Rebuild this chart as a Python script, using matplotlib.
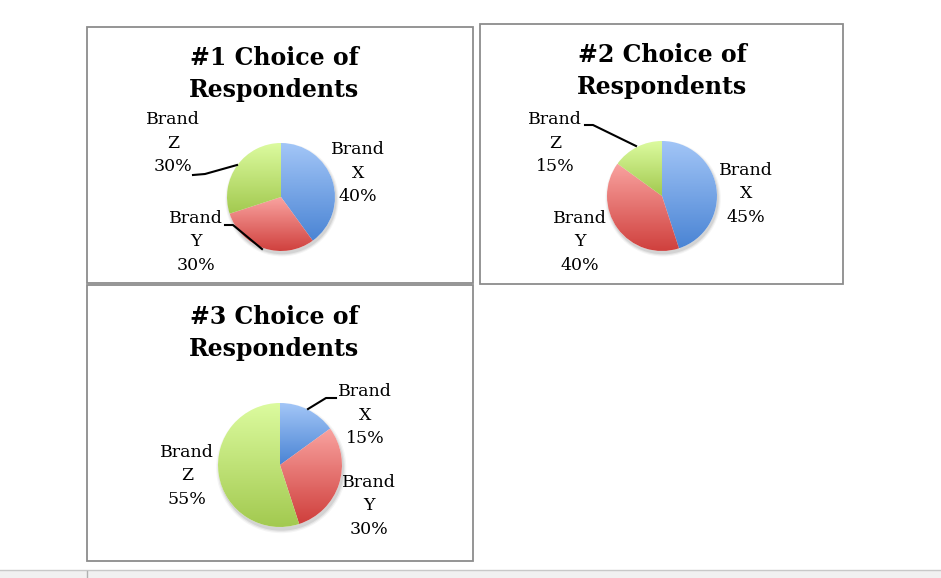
import numpy as np
import matplotlib
matplotlib.use("Agg")
import matplotlib.pyplot as plt
from matplotlib.patches import Rectangle, Circle
from matplotlib.lines import Line2D
from matplotlib.colors import LinearSegmentedColormap

# ---- data ----
titles = ["#1 Choice of\nRespondents", "#2 Choice of\nRespondents", "#3 Choice of\nRespondents"]
brands = ["X", "Y", "Z"]
shares_1 = [40, 30, 30]
shares_2 = [45, 40, 15]
shares_3 = [15, 30, 55]
all_shares = [shares_1, shares_2, shares_3]

# gradient colours per brand (light top -> dark bottom)
grad_colors = {
    "X": ("#a3c6f7", "#4a84d4"),
    "Y": ("#f9a3a0", "#cf3f3c"),
    "Z": ("#dcfb9f", "#a2c94f"),
}

W, H = 941, 578
fig = plt.figure(figsize=(W / 100, H / 100), dpi=100)
fig.patch.set_facecolor("white")

def fx(px):
    return px / W

def fy(py):
    return 1 - py / H

SERIF = ["DejaVu Serif"]

# boxes (left, top, right, bottom in px)
boxes = [(87, 27, 473, 283), (480, 24, 843, 284), (87, 285, 473, 561)]
for (l, t, r, b) in boxes:
    fig.patches.append(Rectangle((fx(l), fy(b)), fx(r - l), (b - t) / H,
                                 transform=fig.transFigure, fill=False,
                                 edgecolor="#8c8c8c", linewidth=1.3))

# bottom strip
fig.patches.append(Rectangle((0, 0), 1, (H - 570) / H, transform=fig.transFigure,
                             facecolor="#f1f1f1", edgecolor="none"))
fig.lines.append(Line2D([0, 1], [fy(570), fy(570)], transform=fig.transFigure,
                        color="#c8c8c8", linewidth=1))
fig.lines.append(Line2D([fx(87), fx(87)], [fy(571), fy(578)], transform=fig.transFigure,
                        color="#b0b0b0", linewidth=1))

# titles
title_pos = [(274, 74), (662, 71), (274, 333)]
for ttl, (px, py) in zip(titles, title_pos):
    fig.text(fx(px), fy(py), ttl, ha="center", va="center", fontsize=17,
             fontweight="bold", family=SERIF, linespacing=1.42, color="black")

# pie geometry (center px, radius px)
pies = [((281, 197), 54), ((662, 196), 55), ((280, 465), 62)]

def draw_pie(shares, center, rad):
    cx, cy = center
    ax = fig.add_axes([fx(cx - rad * 1.3), fy(cy + rad * 1.3),
                       fx(rad * 2.6), rad * 2.6 / H])
    ax.set_xlim(-1.3, 1.3)
    ax.set_ylim(-1.3, 1.3)
    ax.axis("off")
    # soft shadow
    for k, a in zip([1.05, 1.03, 1.01], [0.04, 0.06, 0.08]):
        ax.add_patch(Circle((0.02, -0.05), k, facecolor="#000000", alpha=a,
                            edgecolor="none", zorder=0))
    wedges, _ = ax.pie(shares, startangle=90, counterclock=False, radius=1,
                       colors=["white"] * len(shares),
                       wedgeprops=dict(edgecolor="none"))
    grad = np.linspace(0, 1, 256).reshape(-1, 1)
    for w, b in zip(wedges, brands):
        w.set_zorder(1)
        verts = w.get_path().vertices
        x0, x1 = verts[:, 0].min(), verts[:, 0].max()
        y0, y1 = verts[:, 1].min(), verts[:, 1].max()
        cmap = LinearSegmentedColormap.from_list("g" + b, list(grad_colors[b]))
        im = ax.imshow(grad, cmap=cmap, extent=(x0, x1, y0, y1), origin="upper",
                       aspect="auto", zorder=2, interpolation="bilinear")
        im.set_clip_path(w)
    ax.set_xlim(-1.3, 1.3)
    ax.set_ylim(-1.3, 1.3)
    ax.set_aspect("auto")

for shares, (c, r) in zip(all_shares, pies):
    draw_pie(shares, c, r)

# labels: (x px, y px of middle line)
label_pos = [
    [(358, 173), (196, 242), (173, 143)],
    [(746, 194), (580, 242), (555, 143)],
    [(365, 415), (369, 506), (187, 476)],
]
for shares, poss in zip(all_shares, label_pos):
    for s, b, (px, py) in zip(shares, brands, poss):
        fig.text(fx(px), fy(py), f"Brand\n{b}\n{s}%", ha="center", va="center",
                 fontsize=12.5, family=SERIF, linespacing=1.48, color="black")

# leader lines (px)
leaders = [
    [(193, 175), (205, 174), (237, 165)],
    [(225, 225), (233, 225), (262, 249)],
    [(585, 125), (593, 125), (636, 146)],
    [(308, 409), (326, 398), (336, 398)],
]
for pts in leaders:
    xs = [fx(p[0]) for p in pts]
    ys = [fy(p[1]) for p in pts]
    fig.lines.append(Line2D(xs, ys, transform=fig.transFigure, color="black", linewidth=1.5))

fig.savefig("out.png", dpi=100)
